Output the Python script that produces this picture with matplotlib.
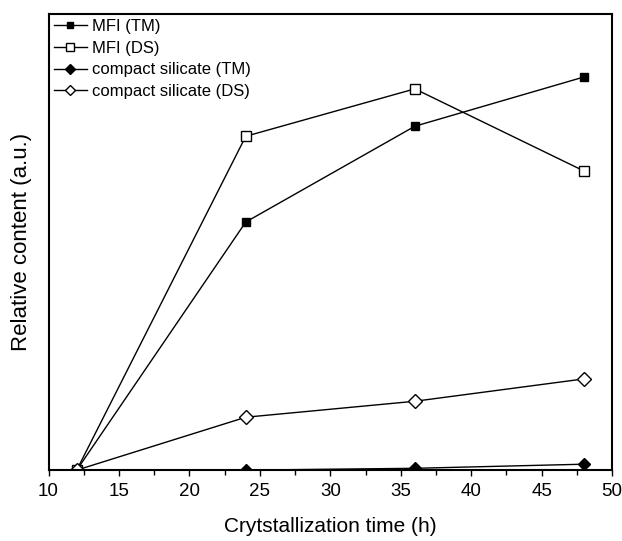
import numpy as np
import matplotlib.pyplot as plt
from matplotlib.ticker import MultipleLocator, NullLocator

plt.rcParams['font.family'] = ['Liberation Sans', 'DejaVu Sans']

# Datos
tiempo = [12, 24, 36, 48]
mfi_tm = [0, 54.4, 75.4, 86.2]
mfi_ds = [0, 73.2, 83.6, 65.6]
compact_tm = [0, 0, 0.4, 1.3]
compact_ds = [0, 11.6, 15.1, 20.0]

fig = plt.figure(figsize=(6.22, 5.41), dpi=100)
ax = fig.add_axes([0.078, 0.131, 0.906, 0.843])

ax.plot(tiempo, mfi_tm, color='k', lw=1, marker='s', ms=6, mfc='k', label='MFI (TM)')
ax.plot(tiempo, mfi_ds, color='k', lw=1, marker='s', ms=7, mfc='white', label='MFI (DS)')
ax.plot(tiempo, compact_tm, color='k', lw=1, marker='D', ms=6, mfc='k', label='compact silicate (TM)')
ax.plot(tiempo, compact_ds, color='k', lw=1, marker='D', ms=7, mfc='white', label='compact silicate (DS)')

ax.set_xlim(10, 50)
ax.set_ylim(0, 100)
ax.xaxis.set_major_locator(MultipleLocator(5))
ax.xaxis.set_minor_locator(MultipleLocator(2.5))
ax.yaxis.set_major_locator(NullLocator())
ax.tick_params(axis='x', which='major', direction='out', length=4.5, width=1, labelsize=13.5, pad=5)
ax.tick_params(axis='x', which='minor', direction='out', length=3.5, width=1)
for s in ax.spines.values():
    s.set_linewidth(1.5)

ax.set_xlabel('Crytstallization time (h)', fontsize=15, labelpad=12)
ax.set_ylabel('Relative content (a.u.)', fontsize=16, labelpad=12)
ax.legend(loc='upper left', frameon=False, fontsize=12, handlelength=2.0,
          handletextpad=0.3, borderaxespad=0.1, labelspacing=0.4, borderpad=0.2,
          markerscale=0.8)

fig.savefig('out.png', dpi=100)
